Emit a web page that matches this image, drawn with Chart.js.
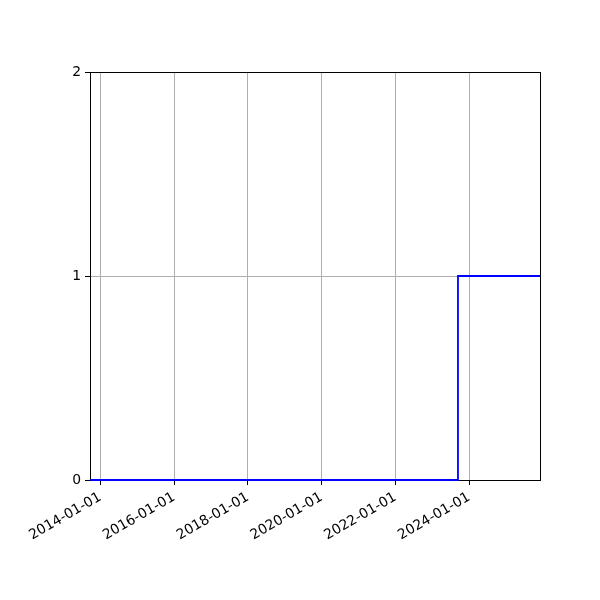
<!DOCTYPE html>
<html>
<head>
<meta charset="utf-8">
<script src="https://cdn.jsdelivr.net/npm/chart.js@4.4.1/dist/chart.umd.min.js"></script>
<style>
html,body{margin:0;padding:0;background:#fff;}
#wrap{width:600px;height:600px;position:relative;}
</style>
</head>
<body>
<div id="wrap"><canvas id="c" width="600" height="600"></canvas></div>
<script>
// Data
const dates = ['2013-09-21', '2023-09-12', '2025-12-02'];
const values = [0, 1, 1];
const xTickDates = ['2014-01-01', '2016-01-01', '2018-01-01', '2020-01-01', '2022-01-01', '2024-01-01'];
const yTickValues = [0, 1, 2];
const xMinDate = '2013-09-21';
const xMaxDate = '2025-12-02';

const toMs = s => Date.parse(s + 'T00:00:00Z');
const points = dates.map((d, i) => ({ x: toMs(d), y: values[i] }));

const frame = {
  id: 'frame',
  beforeDatasetsDraw(chart) {
    const a = chart.chartArea, ctx = chart.ctx;
    ctx.save();
    ctx.strokeStyle = '#000';
    ctx.lineWidth = 1;
    ctx.strokeRect(Math.round(a.left) + 0.5, Math.round(a.top) + 0.5, Math.round(a.right - a.left), Math.round(a.bottom - a.top));
    ctx.restore();
  }
};

Chart.defaults.font.family = 'DejaVu Sans';
Chart.defaults.font.size = 13.9;
Chart.defaults.color = '#000';

new Chart(document.getElementById('c'), {
  type: 'line',
  data: {
    datasets: [{
      data: points,
      stepped: 'before',
      borderColor: '#0000ff',
      borderWidth: 1.8,
      pointRadius: 0,
      fill: false,
      clip: 2
    }]
  },
  options: {
    responsive: false,
    animation: false,
    layout: { padding: { top: 72, right: 60, left: 0, bottom: 0 } },
    plugins: { legend: { display: false }, tooltip: { enabled: false } },
    scales: {
      x: {
        type: 'linear',
        min: toMs(xMinDate),
        max: toMs(xMaxDate),
        afterBuildTicks(scale) { scale.ticks = xTickDates.map(d => ({ value: toMs(d) })); },
        afterFit(scale) { scale.height = 120; },
        ticks: {
          minRotation: 30, maxRotation: 30, padding: 4, autoSkip: false,
          callback: v => new Date(v).toISOString().slice(0, 10)
        },
        grid: { color: '#b0b0b0', lineWidth: 1, tickColor: '#000', tickLength: 5, tickWidth: 1 },
        border: { display: true, color: '#000', width: 1 }
      },
      y: {
        type: 'linear',
        min: 0,
        max: 2,
        afterBuildTicks(scale) { scale.ticks = yTickValues.map(v => ({ value: v })); },
        afterFit(scale) { scale.width = 90; },
        ticks: { padding: 4, callback: v => String(v) },
        grid: { color: '#b0b0b0', lineWidth: 1, tickColor: '#000', tickLength: 5, tickWidth: 1 },
        border: { display: true, color: '#000', width: 1 }
      }
    }
  },
  plugins: [frame]
});
</script>
</body>
</html>
